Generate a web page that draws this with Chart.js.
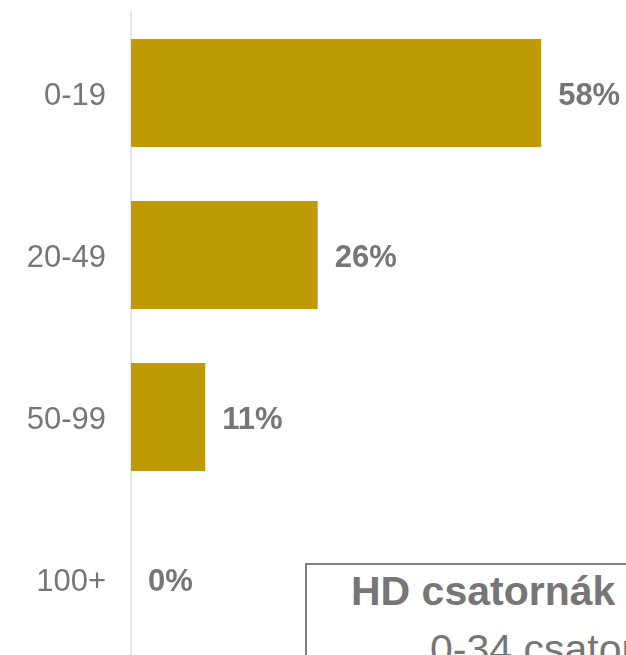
<!DOCTYPE html>
<html>
<head>
<meta charset="utf-8">
<script src="https://cdn.jsdelivr.net/npm/chart.js@4"></script>
<style>
    html, body { margin: 0; padding: 0; background: #fff; overflow: hidden; width: 626px; height: 655px; }
    #wrap { position: relative; width: 626px; height: 655px; overflow: hidden; }
    canvas { position: absolute; left: 0; top: 0; }
    .note { position: absolute; left: 305px; top: 563px; width: 400px; height: 200px;
            border: 2px solid #7f7f7f; box-sizing: border-box; background: #fff; }
    .line { position: absolute; white-space: nowrap; color: #767676;
            font-family: "Liberation Sans", Arial, sans-serif; font-size: 41px; line-height: 41px; }
</style>
</head>
<body>
<div id="wrap">
    <canvas id="hd-chart" width="626" height="660"></canvas>
    <div class="note">
        <div class="line" style="left: 44px; top: 6px; font-weight: bold;">HD csatornák</div>
        <div class="line" style="left: 123px; top: 64px;">0-34 csatorna</div>
    </div>
</div>
<script>
const categories = ['0-19', '20-49', '50-99', '100+'];
const shares = [58, 26.4, 10.5, 0];

const gray = '#767676';
const gold = '#BE9A07';

const valueLabels = {
    id: 'valueLabels',
    afterDatasetsDraw(chart) {
        const ctx = chart.ctx;
        const meta = chart.getDatasetMeta(0);
        ctx.save();
        ctx.font = 'bold 31px "Liberation Sans", Arial, sans-serif';
        ctx.fillStyle = gray;
        ctx.textAlign = 'left';
        ctx.textBaseline = 'middle';
        meta.data.forEach((bar, i) => {
            ctx.fillText(Math.round(shares[i]) + '%', bar.x + 17, bar.y + 3);
        });
        ctx.restore();
    }
};

new Chart(document.getElementById('hd-chart').getContext('2d'), {
    type: 'bar',
    data: {
        labels: categories,
        datasets: [{
            data: shares,
            backgroundColor: gold,
            borderWidth: 0,
            categoryPercentage: 1,
            barPercentage: 108 / 162,
        }]
    },
    options: {
        indexAxis: 'y',
        responsive: false,
        devicePixelRatio: 1,
        animation: false,
        layout: { padding: { top: 12, right: 0, bottom: 0, left: 0 } },
        plugins: {
            legend: { display: false },
            tooltip: { enabled: false },
        },
        scales: {
            x: {
                display: false,
                min: 0,
                max: 70,
            },
            y: {
                grid: { color: 'rgba(0,0,0,0)', drawTicks: false },
                border: { display: true, color: '#e6e6e6', width: 2 },
                ticks: {
                    color: gray,
                    padding: 25,
                    labelOffset: 3,
                    font: { family: '"Liberation Sans", Arial, sans-serif', size: 31 },
                },
                afterFit(scale) {
                    scale.width = 131;
                    scale.paddingTop = 0;
                    scale.paddingBottom = 0;
                }
            }
        }
    },
    plugins: [valueLabels]
});
</script>
</body>
</html>
